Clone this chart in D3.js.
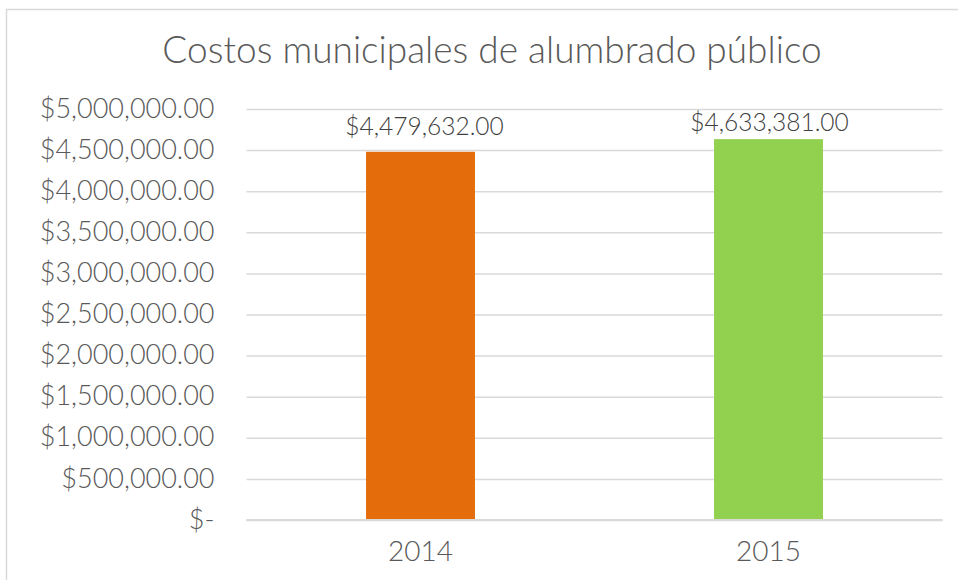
<!DOCTYPE html>
<html><head><meta charset="utf-8">
<script src="https://cdn.jsdelivr.net/npm/d3@7"></script>
<style>
html,body{margin:0;padding:0;background:#fff;}
svg{display:block;font-family:"Lato","Noto Sans",sans-serif;}
</style></head>
<body><svg id="c" width="958" height="580"></svg>
<script>
const title = "Costos municipales de alumbrado público";
const categories = ["2014", "2015"];
const values = [4479632, 4633381];
const tickValues = [0, 500000, 1000000, 1500000, 2000000, 2500000, 3000000, 3500000, 4000000, 4500000, 5000000];
const colors = ["#E46C0A", "#92D050"];

const svg = d3.select("#c");
const FONT = "Lato, 'Noto Sans', sans-serif";
const plot = {left: 246.5, right: 942.5, top: 109, bottom: 520};

svg.append("rect").attr("x", 6.5).attr("y", 9.5).attr("width", 965).attr("height", 590)
  .attr("fill", "#fff").attr("stroke", "#d9d9d9").attr("stroke-width", 1.5);

const x = d3.scaleBand().domain(categories).range([plot.left, plot.right])
  .paddingInner(0.687).paddingOuter(0.3435);
const y = d3.scaleLinear().domain([0, 5000000]).range([plot.bottom, plot.top]);

const fmt = v => v === 0 ? "$-" : "$" + d3.format(",.2f")(v);

const yAxis = d3.axisLeft(y).tickValues(tickValues).tickFormat(fmt)
  .tickSize(-(plot.right - plot.left)).tickPadding(32);
const gy = svg.append("g").attr("transform", `translate(${plot.left},0)`).call(yAxis)
  .attr("font-family", FONT);
gy.select(".domain").remove();
gy.selectAll(".tick line").attr("stroke", "#d9d9d9").attr("stroke-width", 1.5);
gy.selectAll(".tick text").attr("fill", "#595959").attr("font-size", 27)
  .attr("font-weight", 300).attr("dy", "0.3em");

svg.append("g").selectAll("rect").data(values).join("rect")
  .attr("x", (d, i) => x(categories[i]))
  .attr("y", d => y(d))
  .attr("width", x.bandwidth())
  .attr("height", d => y(0) - y(d))
  .attr("fill", (d, i) => colors[i]);

svg.append("line").attr("x1", plot.left).attr("x2", plot.right)
  .attr("y1", y(0)).attr("y2", y(0)).attr("stroke", "#d9d9d9").attr("stroke-width", 2);

const xAxis = d3.axisBottom(x).tickSize(0).tickPadding(21);
const gx = svg.append("g").attr("transform", `translate(0,${plot.bottom})`).call(xAxis)
  .attr("font-family", FONT);
gx.select(".domain").remove();
gx.selectAll(".tick text").attr("fill", "#595959").attr("font-size", 28).attr("font-weight", 300);

const labelOffsets = [17, 8];
svg.append("g").selectAll("text").data(values).join("text")
  .attr("x", (d, i) => x(categories[i]) + x.bandwidth() / 2 + (i === 0 ? 4 : 1))
  .attr("y", (d, i) => y(d) - labelOffsets[i])
  .attr("text-anchor", "middle").attr("fill", "#404040").attr("font-size", 24.5)
  .attr("font-weight", 300)
  .text(d => "$" + d3.format(",.2f")(d));

svg.append("text").attr("x", 492).attr("y", 63).attr("text-anchor", "middle")
  .attr("fill", "#595959").attr("font-size", 37).attr("font-weight", 300)
  .text(title);
</script></body></html>
